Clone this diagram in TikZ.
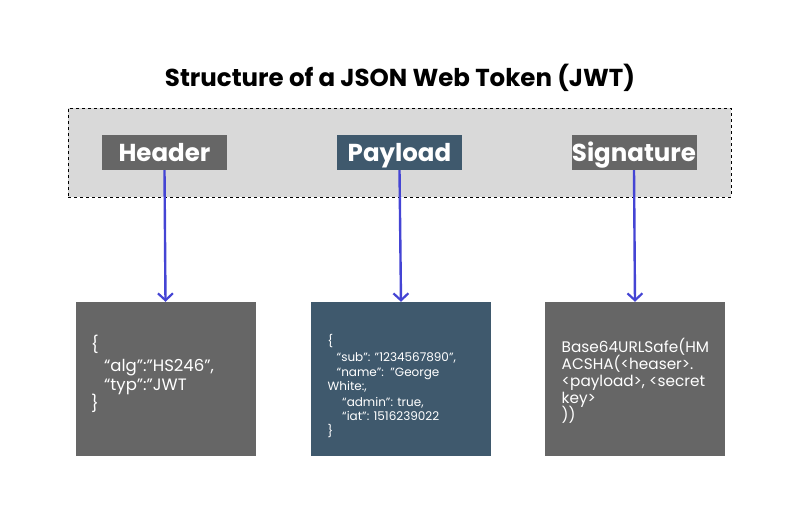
\documentclass[tikz,border=0pt]{standalone}
\usepackage{fontspec}
\setmainfont{Poppins}
\usetikzlibrary{arrows.meta}
\definecolor{boxgray}{HTML}{666666}
\definecolor{payblue}{HTML}{3F596D}
\definecolor{bandgray}{HTML}{D9D9D9}
\definecolor{arrowblue}{HTML}{4444D4}
\begin{document}
\begin{tikzpicture}[x=1pt,y=-1pt,
  labelbox/.style={minimum width=125pt,minimum height=35pt,inner sep=0pt,text height=17.2pt,text depth=0pt,text=white,font=\fontsize{24.5}{26}\selectfont\bfseries},
  contentbox/.style={minimum width=180pt,minimum height=154pt,inner sep=0pt},
  conn/.style={draw=arrowblue,line width=2.4pt,-{Straight Barb[length=7pt,width=15pt,line width=2.2pt]}},
  linetext/.style={text=white,anchor=base west,inner sep=0pt}]
\useasboundingbox (0,0) rectangle (800,519);
\node[anchor=base,inner sep=0pt] (title) at (400,86) {\fontsize{24.5}{28}\selectfont\bfseries Structure of a JSON Web Token (JWT)};
\node[draw=black,dashed,fill=bandgray,line width=0.8pt,minimum width=663pt,minimum height=89pt,inner sep=0pt] (band) at (399.5,152.5) {};
\node[labelbox,fill=boxgray] (header) at (164.5,152.5) {Header};
\node[labelbox,fill=payblue] (payload) at (399.5,152.5) {Payload};
\node[labelbox,fill=boxgray] (signature) at (634,152.5) {Signature};
\node[contentbox,fill=boxgray] (hc) at (165.5,379) {};
\node[contentbox,fill=payblue] (pc) at (401,379) {};
\node[contentbox,fill=boxgray] (sc) at (635,379) {};
\draw[conn] (header.south) -- (hc.north);
\draw[conn] (payload.south) -- (pc.north);
\draw[conn] (signature.south) -- (sc.north);
% header content
\begin{scope}[every node/.append style={linetext,font=\fontsize{16.5}{19}\selectfont}]
\node (h1) at (91,350.5) {\{};
\node (h2) at (104,371) {“alg”:”HS246”,};
\node (h3) at (104,390.5) {“typ”:”JWT};
\node (h4) at (91,409.5) {\}};
\end{scope}
% payload content
\begin{scope}[every node/.append style={linetext,font=\fontsize{12}{14}\selectfont}]
\node (p1) at (327.5,345.5) {\{};
\node (p2) at (336.5,361) {“sub”: ”1234567890”,};
\node (p3) at (336.5,376) {“name”:\ \ ”George};
\node (p4) at (327.5,390.5) {White:,};
\node (p5) at (342,406) {“admin”: true,};
\node (p6) at (342,420.5) {“iat”: 1516239022};
\node (p7) at (327.5,435) {\}};
\end{scope}
% signature content
\begin{scope}[every node/.append style={linetext,font=\fontsize{15.3}{17}\selectfont}]
\node (s1) at (561.5,352) {Base64URLSafe(HM};
\node (s2) at (561.5,369) {ACSHA(<heaser>.};
\node (s3) at (561.5,386) {<payload>, <secret};
\node (s4) at (561.5,403) {key>};
\node (s5) at (561.5,420) {))};
\end{scope}
\end{tikzpicture}
\end{document}
